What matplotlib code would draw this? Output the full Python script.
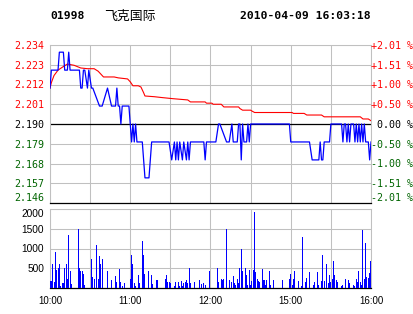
import matplotlib
matplotlib.use('Agg')
import matplotlib.pyplot as plt

# ---------------- data ----------------
stock_code = '01998'
stock_name = '飞克国际'
stamp = '2010-04-09 16:03:18'
prev_close = 2.190

price_ticks = [2.234, 2.223, 2.212, 2.201, 2.190, 2.179, 2.168, 2.157, 2.146]
price_labels = ['2.234', '2.223', '2.212', '2.201', '2.190', '2.179', '2.168', '2.157', '2.146']
pct_labels = ['+2.01 %', '+1.51 %', '+1.00 %', '+0.50 %', ' 0.00 %',
              '-0.50 %', '-1.00 %', '-1.51 %', '-2.01 %']
time_ticks = [0, 30, 60, 90, 120, 150, 180, 210, 240]
time_labels = ['10:00', '', '11:00', '', '12:00', '', '15:00', '', '16:00']
vol_ticks = [500, 1000, 1500, 2000]
vol_labels = ['500', '1000', '1500', '2000']

# price (minute index since 10:00 in trading minutes, price)
price_min = [0, 1, 6, 7, 10, 11, 13, 14, 15, 22, 23, 24, 25, 26, 28, 29, 31, 32, 37, 39,
             43, 46, 49, 50, 51, 52, 53, 54, 59, 60, 61, 62, 63, 64, 65, 69, 71, 74, 75, 76,
             89, 91, 93, 94, 95, 96, 97, 99, 100, 102, 103, 104, 105, 115, 116, 117, 124,
             126, 127, 132, 134, 136, 137, 140, 141, 142, 143, 144, 145, 147, 148, 149, 150,
             179, 180, 194, 196, 201, 202, 203, 204, 205, 209, 210, 218, 219, 220, 221, 222,
             223, 224, 225, 227, 228, 229, 230, 231, 232, 233, 234, 235, 236, 238, 239, 240]
price_val = [2.21, 2.22, 2.22, 2.23, 2.23, 2.22, 2.22, 2.23, 2.22, 2.22, 2.21, 2.21, 2.22,
             2.22, 2.21, 2.22, 2.21, 2.21, 2.20, 2.20, 2.21, 2.20, 2.20, 2.21, 2.20, 2.20,
             2.19, 2.20, 2.20, 2.19, 2.18, 2.19, 2.18, 2.19, 2.18, 2.18, 2.16, 2.16, 2.17,
             2.18, 2.18, 2.17, 2.18, 2.17, 2.18, 2.17, 2.18, 2.17, 2.18, 2.17, 2.18, 2.17,
             2.18, 2.18, 2.17, 2.18, 2.18, 2.19, 2.19, 2.18, 2.18, 2.19, 2.18, 2.18, 2.19,
             2.19, 2.17, 2.19, 2.18, 2.18, 2.19, 2.18, 2.19, 2.19, 2.18, 2.18, 2.17, 2.17,
             2.18, 2.17, 2.17, 2.18, 2.18, 2.19, 2.19, 2.18, 2.19, 2.19, 2.18, 2.19, 2.18,
             2.19, 2.19, 2.18, 2.19, 2.18, 2.19, 2.18, 2.19, 2.18, 2.19, 2.18, 2.18, 2.17,
             2.18]

avg_min = [0, 1, 3, 6, 10, 13, 18, 23, 28, 33, 36, 40, 48, 51, 58, 60, 61, 62, 66, 68,
           70, 71, 78, 84, 92, 103, 105, 116, 117, 121, 122, 128, 130, 141, 142, 144, 150,
           151, 153, 181, 182, 190, 192, 203, 205, 232, 234, 238, 240]
avg_val = [2.2100, 2.2130, 2.2170, 2.2200, 2.2220, 2.2234, 2.2227, 2.2212, 2.2208, 2.2208,
           2.2194, 2.2162, 2.2162, 2.2157, 2.2151, 2.2135, 2.2124, 2.2113, 2.2113, 2.2106,
           2.2074, 2.2056, 2.2052, 2.2047, 2.2041, 2.2034, 2.2023, 2.2023, 2.2016, 2.2016,
           2.2010, 2.2010, 2.1995, 2.1995, 2.1986, 2.1977, 2.1977, 2.1972, 2.1964, 2.1964,
           2.1959, 2.1959, 2.1950, 2.1950, 2.1940, 2.1940, 2.1928, 2.1928, 2.1918]

vol_min = [0, 1, 2, 3, 4, 5, 6, 7, 8, 9, 10, 11, 12, 13, 14, 15, 16, 21, 22, 23, 24, 25,
           26, 31, 32, 33, 35, 36, 37, 38, 39, 43, 46, 49, 50, 52, 53, 54, 56, 60, 61, 62,
           63, 64, 66, 67, 69, 70, 71, 74, 76, 77, 80, 86, 87, 88, 89, 90, 93, 94, 96, 97,
           98, 99, 100, 101, 102, 103, 104, 105, 108, 112, 113, 115, 116, 119, 125, 126,
           128, 129, 130, 132, 134, 136, 137, 138, 139, 140, 141, 142, 143, 144, 146, 147,
           148, 149, 150, 151, 152, 153, 154, 155, 156, 157, 159, 160, 161, 162, 164, 165,
           167, 174, 179, 180, 181, 182, 183, 186, 188, 189, 191, 192, 194, 197, 198, 200,
           201, 203, 204, 205, 207, 208, 209, 210, 211, 212, 213, 214, 215, 218, 219, 221,
           223, 224, 227, 228, 229, 230, 231, 232, 233, 234, 235, 236, 237, 238, 239, 240]
vol_val = [186, 170, 619, 144, 924, 466, 508, 610, 59, 127, 127, 508, 610, 237, 1330, 440,
           110, 1483, 508, 440, 424, 364, 85, 745, 270, 237, 1076, 237, 822, 620, 745, 440,
           212, 313, 144, 491, 144, 59, 136, 237, 847, 619, 127, 59, 339, 127, 1178, 847,
           364, 440, 339, 110, 212, 237, 339, 144, 144, 136, 59, 144, 144, 59, 170, 59, 127,
           144, 212, 127, 508, 127, 144, 212, 110, 127, 70, 424, 508, 144, 237, 212, 237,
           1483, 195, 144, 313, 127, 85, 237, 127, 508, 1000, 424, 508, 339, 85, 466, 85,
           170, 466, 1932, 398, 237, 170, 144, 491, 212, 85, 195, 440, 85, 212, 212, 237,
           364, 85, 237, 440, 170, 59, 1297, 144, 254, 398, 85, 144, 398, 85, 170, 847, 170,
           619, 127, 339, 153, 229, 695, 339, 212, 144, 59, 85, 237, 195, 127, 85, 59, 237,
           144, 440, 144, 85, 1458, 237, 1144, 280, 254, 381, 695]

# ---------------- styles ----------------
RED = '#ff0000'
GREEN = '#006400'
BLUE = '#0000ff'
GRID = '#c0c0c0'
W, H = 414, 314

fig = plt.figure(figsize=(W / 100, H / 100), dpi=100)
fig.patch.set_facecolor('white')

ax = fig.add_axes([50 / W, 1 - 203 / H, 321 / W, 158 / H])
axv = fig.add_axes([50 / W, 1 - 288 / H, 321 / W, 79 / H])

mono = 'DejaVu Sans Mono'


def level_color(v):
    if abs(v - prev_close) < 1e-9:
        return 'black'
    return RED if v > prev_close else GREEN


# price panel
ax.set_xlim(0, 240)
ax.set_ylim(price_ticks[-1], price_ticks[0])
ax.set_xticks(time_ticks)
ax.set_xticklabels([])
ax.set_yticks(price_ticks)
ax.set_yticklabels(price_labels, fontfamily=mono, fontsize=7.2)
ax.tick_params(axis='both', length=0)
ax.tick_params(axis='y', pad=4.3)
for lbl, v in zip(ax.get_yticklabels(), price_ticks):
    lbl.set_color(level_color(v))
ax.get_yticklabels()[-1].set_verticalalignment('bottom')
ax.grid(True, color=GRID, linewidth=0.75)
ax.set_axisbelow(True)
for s in ['left', 'top', 'right']:
    ax.spines[s].set_color(GRID)
    ax.spines[s].set_linewidth(0.75)
ax.spines['bottom'].set_color('black')
ax.spines['bottom'].set_linewidth(0.9)
ax.axhline(prev_close, color='black', linewidth=0.9, zorder=1)

axr = ax.twinx()
axr.set_ylim(price_ticks[-1], price_ticks[0])
axr.set_yticks(price_ticks)
axr.set_yticklabels(pct_labels, fontfamily=mono, fontsize=7.2)
axr.tick_params(axis='y', length=0, pad=0.3)
for lbl, v in zip(axr.get_yticklabels(), price_ticks):
    lbl.set_color(level_color(v))
axr.get_yticklabels()[-1].set_verticalalignment('bottom')
for s in axr.spines.values():
    s.set_visible(False)

ax.plot(avg_min, avg_val, color=RED, linewidth=0.8, zorder=3)
ax.plot(price_min, price_val, color=BLUE, linewidth=0.9, zorder=4)

# volume panel
axv.set_xlim(0, 240)
axv.set_ylim(0, 2000)
axv.set_xticks(time_ticks)
axv.set_xticklabels(time_labels, fontfamily='Liberation Sans', fontsize=7)
axv.set_yticks(vol_ticks)
axv.set_yticklabels(vol_labels, fontfamily='Liberation Sans', fontsize=7.3)
axv.tick_params(axis='both', length=0)
axv.tick_params(axis='y', pad=4.3)
axv.tick_params(axis='x', pad=5.5)
axv.get_yticklabels()[-1].set_verticalalignment('top')
axv.grid(True, color=GRID, linewidth=0.75)
axv.set_axisbelow(True)
for s in ['left', 'top', 'right']:
    axv.spines[s].set_color(GRID)
    axv.spines[s].set_linewidth(0.75)
axv.spines['bottom'].set_color('black')
axv.spines['bottom'].set_linewidth(0.9)
axv.bar(vol_min, vol_val, width=0.75, color=BLUE, linewidth=0, zorder=3)

# header
fig.text(50 / W, 1 - 16 / H, stock_code, fontfamily=mono, fontweight='bold',
         fontsize=8.2, va='center', ha='left')
fig.text(104 / W, 1 - 16 / H, stock_name, fontfamily=['Noto Sans CJK SC', 'DejaVu Sans'],
         fontsize=9.3, va='center', ha='left')
fig.text(371 / W, 1 - 16 / H, stamp, fontfamily=mono, fontweight='bold',
         fontsize=8.2, va='center', ha='right')

fig.savefig('out.png', dpi=100, facecolor='white')
